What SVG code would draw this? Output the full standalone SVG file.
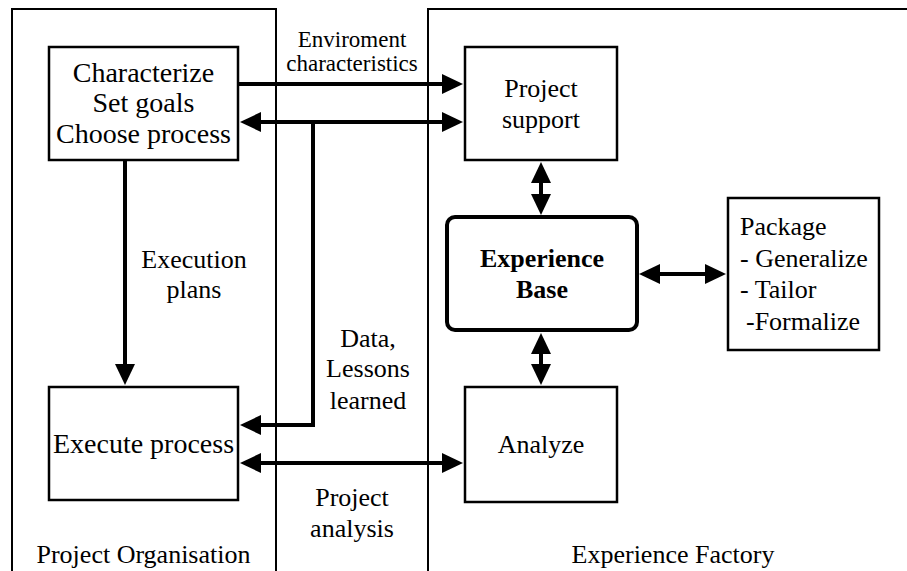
<svg xmlns="http://www.w3.org/2000/svg" width="907" height="571" viewBox="0 0 907 571" font-family="Liberation Serif, serif">
  <style>
    .frame { fill: none; stroke: #000; stroke-width: 2; }
    .box { fill: #fff; stroke: #000; stroke-width: 2.5; }
    .link { fill: none; stroke: #000; stroke-width: 4; }
    tspan.s { font-family: 'Liberation Serif', serif !important; }
  </style>
  <defs>
    <!-- filled triangular arrowhead, base at the line end -->
    <marker id="arrow" markerUnits="userSpaceOnUse" markerWidth="21" markerHeight="20" refX="0" refY="10" orient="auto-start-reverse">
      <path d="M0,0 L21,10 L0,20 Z" fill="#000"/>
    </marker>
  </defs>

  <rect width="907" height="571" fill="#fff"/>

  <!-- organisational frames -->
  <g id="project-organisation">
    <path class="frame" d="M12,571 V9 H276 V571"/>
    <text x="143.5" y="563" text-anchor="middle" font-size="26"><tspan class="s" font-family="Liberation Serif">Project Organisation</tspan></text>
  </g>
  <g id="experience-factory">
    <path class="frame" d="M428,571 V9 H907"/>
    <text x="673" y="563" text-anchor="middle" font-size="26"><tspan class="s" font-family="Liberation Serif">Experience Factory</tspan></text>
  </g>

  <!-- connectors -->
  <g id="connectors">
    <line class="link" x1="238" y1="84" x2="442" y2="84" marker-end="url(#arrow)"/>
    <line class="link" x1="261" y1="122" x2="442" y2="122" marker-start="url(#arrow)" marker-end="url(#arrow)"/>
    <polyline class="link" points="313,122 313,425 261,425" marker-end="url(#arrow)"/>
    <line class="link" x1="125" y1="160" x2="125" y2="364" marker-end="url(#arrow)"/>
    <line class="link" x1="261" y1="463" x2="442" y2="463" marker-start="url(#arrow)" marker-end="url(#arrow)"/>
    <line class="link" x1="541" y1="183" x2="541" y2="194" marker-start="url(#arrow)" marker-end="url(#arrow)"/>
    <line class="link" x1="541" y1="354" x2="541" y2="364" marker-start="url(#arrow)" marker-end="url(#arrow)"/>
    <line class="link" x1="660" y1="274" x2="705" y2="274" marker-start="url(#arrow)" marker-end="url(#arrow)"/>

    <text x="352" y="47" text-anchor="middle" font-size="23"><tspan class="s" font-family="Liberation Serif">Enviroment</tspan></text>
    <text x="352" y="71" text-anchor="middle" font-size="23"><tspan class="s" font-family="Liberation Serif">characteristics</tspan></text>
    <text x="194" y="268" text-anchor="middle" font-size="26"><tspan class="s" font-family="Liberation Serif">Execution</tspan></text>
    <text x="194" y="298" text-anchor="middle" font-size="26"><tspan class="s" font-family="Liberation Serif">plans</tspan></text>
    <text x="368" y="347" text-anchor="middle" font-size="26"><tspan class="s" font-family="Liberation Serif">Data,</tspan></text>
    <text x="368" y="377" text-anchor="middle" font-size="26"><tspan class="s" font-family="Liberation Serif">Lessons</tspan></text>
    <text x="368" y="409" text-anchor="middle" font-size="26"><tspan class="s" font-family="Liberation Serif">learned</tspan></text>
    <text x="352" y="506" text-anchor="middle" font-size="26"><tspan class="s" font-family="Liberation Serif">Project</tspan></text>
    <text x="352" y="537" text-anchor="middle" font-size="26"><tspan class="s" font-family="Liberation Serif">analysis</tspan></text>
  </g>

  <!-- nodes -->
  <g id="characterize">
    <rect class="box" x="49" y="47" width="189" height="113"/>
    <text x="143.5" y="82" text-anchor="middle" font-size="28"><tspan class="s" font-family="Liberation Serif">Characterize</tspan></text>
    <text x="143.5" y="112" text-anchor="middle" font-size="28"><tspan class="s" font-family="Liberation Serif">Set goals</tspan></text>
    <text x="143.5" y="143" text-anchor="middle" font-size="28"><tspan class="s" font-family="Liberation Serif">Choose process</tspan></text>
  </g>
  <g id="execute-process">
    <rect class="box" x="49" y="387" width="189" height="113"/>
    <text x="143.5" y="453" text-anchor="middle" font-size="28"><tspan class="s" font-family="Liberation Serif">Execute process</tspan></text>
  </g>
  <g id="project-support">
    <rect class="box" x="465" y="47" width="152" height="113"/>
    <text x="541" y="97" text-anchor="middle" font-size="26"><tspan class="s" font-family="Liberation Serif">Project</tspan></text>
    <text x="541" y="128" text-anchor="middle" font-size="26"><tspan class="s" font-family="Liberation Serif">support</tspan></text>
  </g>
  <g id="experience-base">
    <rect x="447" y="217" width="190" height="113" rx="8" ry="8" fill="#fff" stroke="#000" stroke-width="4"/>
    <text x="542" y="267" text-anchor="middle" font-size="26" font-weight="bold"><tspan class="s" font-family="Liberation Serif">Experience</tspan></text>
    <text x="542" y="298" text-anchor="middle" font-size="26" font-weight="bold"><tspan class="s" font-family="Liberation Serif">Base</tspan></text>
  </g>
  <g id="analyze">
    <rect class="box" x="465" y="387" width="152" height="115"/>
    <text x="541" y="453" text-anchor="middle" font-size="26"><tspan class="s" font-family="Liberation Serif">Analyze</tspan></text>
  </g>
  <g id="package">
    <rect class="box" x="728" y="198" width="151" height="152"/>
    <text x="740" y="235" font-size="26"><tspan class="s" font-family="Liberation Serif">Package</tspan></text>
    <text x="740" y="267" font-size="26"><tspan class="s" font-family="Liberation Serif">- Generalize</tspan></text>
    <text x="740" y="298" font-size="26"><tspan class="s" font-family="Liberation Serif">- Tailor</tspan></text>
    <text x="746" y="330" font-size="26"><tspan class="s" font-family="Liberation Serif">-Formalize</tspan></text>
  </g>
</svg>
